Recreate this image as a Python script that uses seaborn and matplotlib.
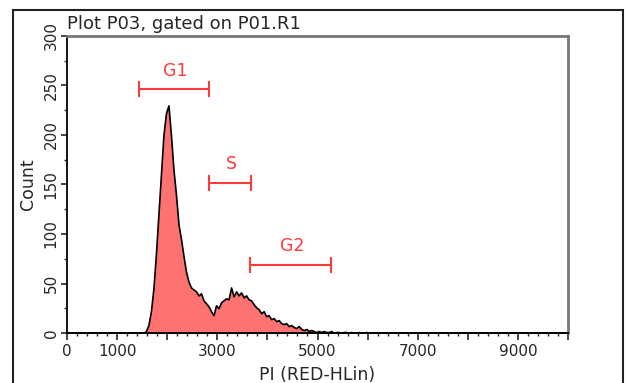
import numpy as np
import pandas as pd
import matplotlib
matplotlib.use('Agg')
import matplotlib.pyplot as plt
import matplotlib.patches as mpatches
import seaborn as sns

# PI histogram, 50-unit channels (left edge of each channel)
bin_left = [1500, 1550, 1600, 1650, 1700, 1750, 1800, 1850, 1900, 1950,
            2000, 2050, 2100, 2150, 2200, 2250, 2300, 2350, 2400, 2450,
            2500, 2550, 2600, 2650, 2700, 2750, 2800, 2850, 2900, 2950,
            3000, 3050, 3100, 3150, 3200, 3250, 3300, 3350, 3400, 3450,
            3500, 3550, 3600, 3650, 3700, 3750, 3800, 3850, 3900, 3950,
            4000, 4050, 4100, 4150, 4200, 4250, 4300, 4350, 4400, 4450,
            4500, 4550, 4600, 4650, 4700, 4750, 4800, 4850, 4900, 4950,
            5000, 5050, 5100, 5150, 5200, 5250, 5300, 5350, 5400, 5450,
            5500, 5550, 5600, 5650, 5700, 5750, 5800, 5850, 5900, 5950]
counts = [0, 2, 8, 22, 45, 80, 120, 160, 200, 222,
          230, 200, 165, 140, 110, 95, 78, 62, 52, 46,
          44, 42, 38, 40, 33, 30, 27, 22, 18, 28,
          25, 31, 33, 35, 34, 46, 37, 42, 38, 41,
          36, 38, 34, 33, 29, 26, 24, 20, 22, 17,
          18, 14, 15, 12, 13, 10, 9, 10, 7, 8,
          6, 5, 7, 4, 3, 4, 2, 3, 2, 1,
          2, 1, 2, 1, 1, 2, 0, 1, 1, 0,
          1, 1, 0, 1, 0, 0, 1, 0, 0, 1]

# marker regions
gate_names = ['G1', 'S', 'G2']
gate_lo = [1440, 2840, 3660]
gate_hi = [2840, 3680, 5260]
gate_level = [246, 152, 69]

x_ticks = [0, 1000, 3000, 5000, 7000, 9000]
y_ticks = [0, 50, 100, 150, 200, 250, 300]

sns.set_style('ticks')
plt.rcParams['font.family'] = ['DejaVu Sans']

df = pd.DataFrame({'pi': np.array(bin_left) + 25, 'count': counts})

fig = plt.figure(figsize=(6.26, 3.83), dpi=100)
ax = fig.add_axes([67/626, 50/383, 501/626, 297/383])

sns.histplot(data=df, x='pi', weights='count', binwidth=50, binrange=(0, 10000),
             element='poly', fill=True, color='#ff7272', alpha=1,
             edgecolor='black', linewidth=1.2, ax=ax)

red = '#ff3a3a'
for name, lo, hi, lv in zip(gate_names, gate_lo, gate_hi, gate_level):
    ax.errorbar((lo + hi) / 2, lv, xerr=(hi - lo) / 2, fmt='none',
                ecolor=red, elinewidth=1.5, capsize=5.5, capthick=1.5)
    ax.annotate(name, ((lo + hi) / 2, lv), xytext=(1, 7),
                textcoords='offset points', ha='center', va='bottom',
                color=red, fontsize=12.5)

ax.set_xlim(0, 10000)
ax.set_ylim(0, 300)
ax.set_xticks(np.arange(0, 10001, 1000))
ax.set_xticklabels([str(v) if v in x_ticks else '' for v in range(0, 10001, 1000)])
ax.set_xticks(np.arange(0, 10001, 200), minor=True)
ax.set_yticks(y_ticks)
ax.set_yticks(np.arange(0, 301, 25), minor=True)
ax.tick_params(axis='x', which='major', length=5, width=1.2, pad=3, labelsize=11)
ax.tick_params(axis='x', which='minor', length=2.5, width=1)
ax.tick_params(axis='y', which='major', length=4, width=1.2, pad=2, labelsize=11)
ax.tick_params(axis='y', which='minor', length=2, width=1)
for lab in ax.get_yticklabels():
    lab.set_rotation(90)
    lab.set_va('center')

ax.set_xlabel('PI (RED-HLin)', fontsize=12.5, labelpad=5)
ax.set_ylabel('Count', fontsize=12.5, labelpad=5)
ax.set_title('Plot P03, gated on P01.R1', loc='left', fontsize=13, pad=5)

for s in ['left', 'bottom']:
    ax.spines[s].set_color('black')
    ax.spines[s].set_linewidth(1.3)
for s in ['top', 'right']:
    ax.spines[s].set_visible(True)
    ax.spines[s].set_color('#777777')
    ax.spines[s].set_linewidth(2)

# outer frame of the plot window
fig.patches.append(mpatches.Rectangle((13/626, -0.1), 610/626, 1 - 10/383 + 0.1,
                                      transform=fig.transFigure, fill=False,
                                      edgecolor='#222222', linewidth=1.5))

fig.savefig('out.png', dpi=100)
